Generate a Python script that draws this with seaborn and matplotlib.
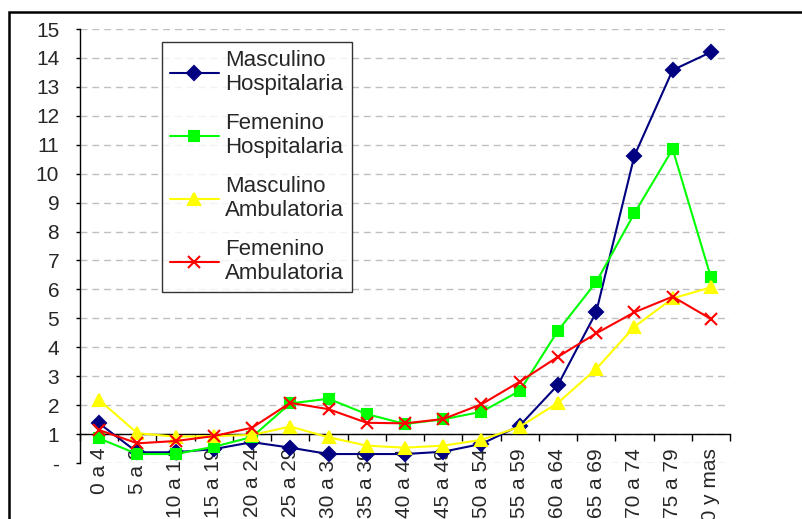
import matplotlib
matplotlib.use("Agg")
import matplotlib.pyplot as plt
import seaborn as sns
import numpy as np
import pandas as pd
from matplotlib.patches import Rectangle

# age groups
grupos = ['0 a 4', '5 a 9', '10 a 14', '15 a 19', '20 a 24', '25 a 29',
          '30 a 34', '35 a 39', '40 a 44', '45 a 49', '50 a 54', '55 a 59',
          '60 a 64', '65 a 69', '70 a 74', '75 a 79', '80 y mas']

masc_hosp = [1.37, 0.37, 0.37, 0.48, 0.72, 0.53, 0.31, 0.31, 0.31, 0.39,
             0.66, 1.29, 2.70, 5.21, 10.62, 13.58, 14.20]
fem_hosp = [0.85, 0.31, 0.31, 0.56, 0.90, 2.06, 2.22, 1.69, 1.35, 1.51,
            1.77, 2.49, 4.57, 6.25, 8.63, 10.85, 6.42]
masc_amb = [2.18, 1.03, 0.91, 0.93, 0.97, 1.26, 0.89, 0.60, 0.53, 0.60,
            0.80, 1.25, 2.08, 3.25, 4.71, 5.69, 6.07]
fem_amb = [1.14, 0.68, 0.76, 0.93, 1.22, 2.08, 1.86, 1.39, 1.37, 1.52,
           2.03, 2.81, 3.67, 4.48, 5.21, 5.75, 4.98]

series = [
    ('Masculino\nHospitalaria', masc_hosp, '#000080', 'D', 7),
    ('Femenino\nHospitalaria', fem_hosp, '#00FF00', 's', 7),
    ('Masculino\nAmbulatoria', masc_amb, '#FFFF00', '^', 9),
    ('Femenino\nAmbulatoria', fem_amb, '#FF0000', 'x', 9),
]

sns.set_style("white")
plt.rcParams['font.family'] = ['Liberation Sans', 'DejaVu Sans']

fig = plt.figure(figsize=(8.03, 5.19), dpi=100)
ax = fig.add_axes([80 / 803, 56 / 519, 650 / 803, 434 / 519])

x = np.arange(len(grupos))
for nombre, vals, color, mk, ms in series:
    df = pd.DataFrame({'x': x, 'y': vals})
    sns.lineplot(data=df, x='x', y='y', ax=ax, color=color, marker=mk,
                 markersize=ms, markeredgecolor=color, markeredgewidth=1.5,
                 linewidth=1.5, label=nombre, sort=False, zorder=3)

ax.set_xlim(-0.5, len(grupos) - 0.5)
ax.set_ylim(0, 15)
ax.set_xlabel('')
ax.set_ylabel('')

# y axis
ax.set_yticks(range(0, 16))
ax.set_yticklabels(['-'] + [str(i) for i in range(1, 16)])
ax.yaxis.grid(True, color='#c0c0c0', linestyle=(0, (5, 3.5)), linewidth=1)
ax.xaxis.grid(False)
ax.tick_params(axis='y', direction='out', length=3, width=1, pad=12,
               labelsize=15, left=True, color='black')

# x axis crosses at 1
ax.spines['bottom'].set_position(('data', 1))
ax.spines['top'].set_visible(False)
ax.spines['right'].set_visible(False)
for s in ['left', 'bottom']:
    ax.spines[s].set_color('black')
    ax.spines[s].set_linewidth(1)
ax.set_xticks(x)
ax.set_xticklabels(grupos, rotation=90)
ax.set_xticks(np.arange(-0.5, len(grupos), 1), minor=True)
ax.tick_params(axis='x', which='major', length=0, pad=10, labelsize=15)
ax.tick_params(axis='x', which='minor', direction='out', length=5, width=1,
               bottom=True, color='black')

leg = ax.legend(loc='upper left', bbox_to_anchor=(0.126, 0.970),
                borderaxespad=0, fontsize=16, frameon=True, fancybox=False,
                handlelength=2.2, handletextpad=0.3, labelspacing=0.8,
                borderpad=0.35)
leg.get_frame().set_edgecolor('black')
leg.get_frame().set_linewidth(1)
leg.set_zorder(5)

# outer chart frame
fig.patches.append(Rectangle((9 / 803, -0.1), 1.2, (519 - 12) / 519 + 0.1,
                             transform=fig.transFigure, fill=False,
                             edgecolor='black', linewidth=1.8))

fig.savefig('out.png', dpi=100)
